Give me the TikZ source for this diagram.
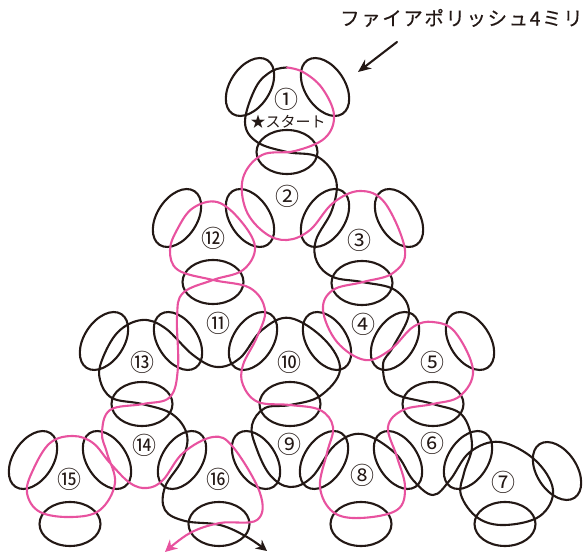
\documentclass[tikz,border=0pt]{standalone}
\usepackage{fontspec}
\usetikzlibrary{arrows.meta}
\newfontfamily\jpfont{Noto Sans CJK JP}
\newfontfamily\jptitle[LetterSpace=8,FakeBold=0.3]{Noto Sans CJK JP}
\definecolor{inkk}{HTML}{231815}
\definecolor{pinkk}{HTML}{E8529F}
\tikzset{
 thread/.style={line width=2.1pt,color=inkk,line cap=round,line join=round},
 pinkthread/.style={line width=2.1pt,color=pinkk,line cap=round,line join=round},
 num/.style={font=\jpfont\fontsize{24}{24}\selectfont,color=inkk,inner sep=0pt},
}
\newcommand{\earL}[2]{\draw[thread] (#1,#2) ellipse [x radius=20pt,y radius=32pt,rotate=-33];}
\newcommand{\earR}[2]{\draw[thread] (#1,#2) ellipse [x radius=20pt,y radius=32pt,rotate=33];}
\newcommand{\base}[2]{\draw[thread] (#1,#2) ellipse [x radius=30.5pt,y radius=22pt];}
\begin{document}
\begin{tikzpicture}[x=1pt,y=-1pt]
\useasboundingbox (0,0) rectangle (584,553);
% ears leaning right
\earL{250}{87}\earL{325}{218}\earL{177}{218}\earL{253}{341}\earL{104}{341}\earL{395}{341}\earL{33}{460}\earL{182}{460}\earL{324}{460}\earL{468}{460}
% ears leaning left
\earR{325}{87}\earR{250}{218}\earR{399}{218}\earR{178}{341}\earR{327}{341}\earR{470}{341}\earR{107}{460}\earR{256}{460}\earR{398}{460}\earR{557}{471}
% bases
\base{287}{152}\base{362}{283}\base{213}{282}\base{142}{404}\base{290}{404}\base{433}{404}\base{70}{524}\base{219}{524}\base{361}{524}\base{505}{524}
% black thread
\draw[thread,-{Stealth[length=11pt,width=11pt]}] plot[smooth,tension=0.62] coordinates {
(287,67.5)(272,71)(256,87)(245,122)(257,142)(287,152)(318,157)(336,180)(332,210)(316,240)(317,262)(333,277)(362,282)(395,290)(409,313)(393,347)(383,365)(392,392)(433,404)(462,415)(472,445)(464,473)(461,495)(478,518)(505,525)(540,516)(553,490)(535,460)(500,442)(470,452)(450,480)(433,495)(413,480)(395,453)(362,434)(335,445)(312,477)(290,487)(270,475)(256,447)(252,425)(265,408)(290,405)(320,396)(340,370)(325,340)(290,318)(262,330)(240,358)(217,367)(193,355)(165,328)(142,320)(118,332)(102,360)(100,380)(112,398)(142,404)(172,414)(187,435)(182,460)(165,487)(165,510)(185,521)(220,525)(247,537)(267,551)};
% pink thread
\draw[pinkthread,-{Stealth[length=12pt,width=12pt]}] plot[smooth,tension=0.62] coordinates {
(287,67.5)(303,72)(322,88)(334,115)(325,138)(295,151)(262,155)(243,178)(246,210)(265,233)(287,240)(310,230)(333,203)(360,191)(385,203)(405,250)(393,273)(363,282)(333,290)(323,310)(337,342)(365,360)(390,350)(413,327)(433,322)(455,332)(473,370)(460,396)(433,404)(403,410)(388,427)(397,457)(405,487)(397,510)(360,518)(333,512)(320,487)(327,453)(333,427)(320,410)(290,405)(258,402)(243,385)(243,365)(257,337)(265,310)(250,288)(213,280)(178,270)(170,250)(178,228)(193,208)(217,202)(240,220)(255,247)(243,270)(213,280)(183,293)(177,317)(178,367)(170,397)(143,404)(110,410)(102,433)(107,453)(115,483)(100,510)(72,517)(40,512)(27,493)(33,470)(50,443)(73,436)(93,443)(110,463)(130,483)(147,488)(163,480)(183,453)(213,437)(233,447)(260,493)(257,520)(220,523)(190,533)(165,552)};
% numbers
\node[num] (n1) at (286,99) {①};
\node[num] (n2) at (287,196) {②};
\node[num] (n3) at (359,240) {③};
\node[num] (n4) at (363,324) {④};
\node[num] (n5) at (432,362) {⑤};
\node[num] (n6) at (432,443) {⑥};
\node[num] (n7) at (503,482) {⑦};
\node[num] (n8) at (362,475) {⑧};
\node[num] (n9) at (289,444) {⑨};
\node[num] (n10) at (289,362) {⑩};
\node[num] (n11) at (218,323) {⑪};
\node[num] (n12) at (213,238) {⑫};
\node[num] (n13) at (142,362) {⑬};
\node[num] (n14) at (144,445) {⑭};
\node[num] (n15) at (69,479) {⑮};
\node[num] (n16) at (218,479) {⑯};
\node[font=\jpfont\fontsize{15}{15}\selectfont,color=inkk,inner sep=0pt] (start) at (288,122) {★スタート};
\node[font=\jptitle\fontsize{19.5}{19.5}\selectfont,color=inkk,inner sep=0pt,anchor=west] (title) at (340,18) {ファイアポリッシュ4ミリ};
\coordinate (a1) at (397,42);
\coordinate (a2) at (358,72);
\draw[thread,-{Stealth[length=13pt,width=11pt]}] (a1) -- (a2);
\end{tikzpicture}
\end{document}
